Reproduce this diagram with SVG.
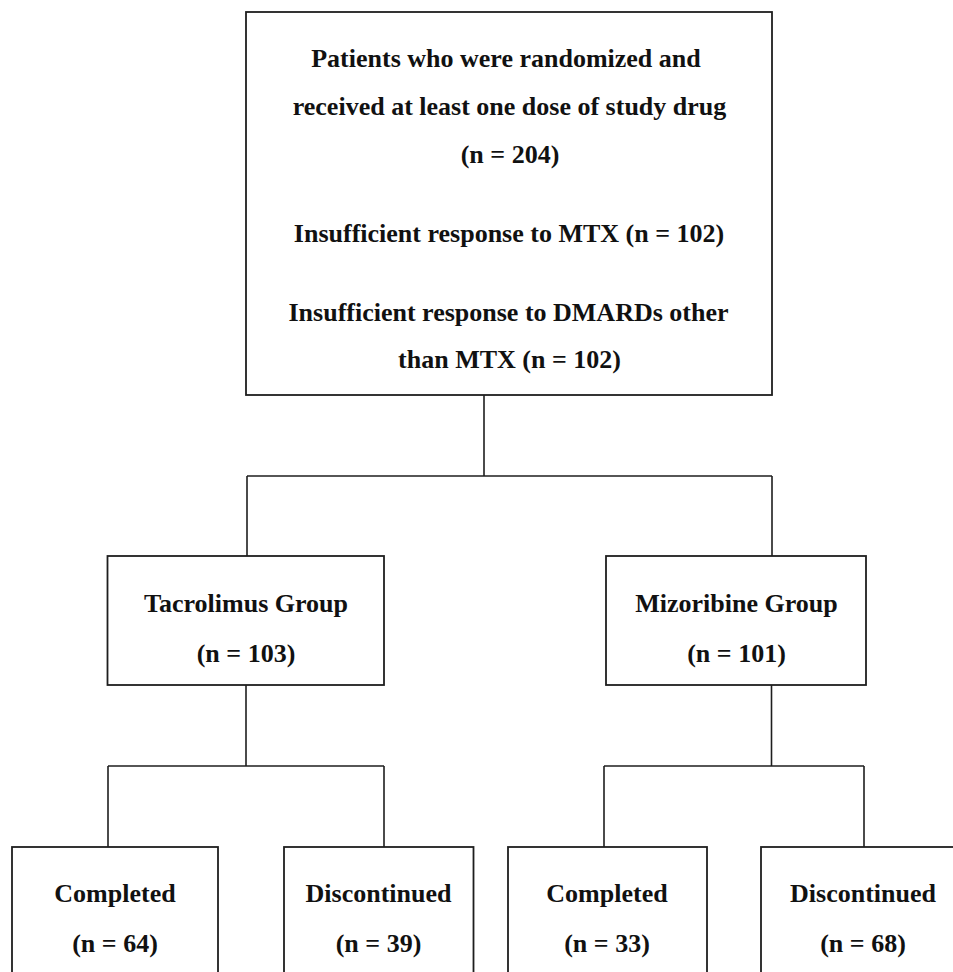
<svg xmlns="http://www.w3.org/2000/svg" width="953" height="972" viewBox="0 0 953 972">
<style>
  .box { fill: #ffffff; stroke: #1e1e1e; stroke-width: 1.8; }
  .conn { fill: none; stroke: #1e1e1e; stroke-width: 1.6; }
  text { font-family: "Liberation Serif", "Times New Roman", serif; font-weight: bold; font-size: 26px; fill: #111111; text-anchor: middle; }
</style>
<rect x="0" y="0" width="953" height="972" fill="#ffffff"/>
<g id="connectors">
  <path class="conn" d="M484,395 V476"/>
  <path class="conn" d="M247,476 H772"/>
  <path class="conn" d="M247,476 V556"/>
  <path class="conn" d="M772,476 V556"/>
  <path class="conn" d="M246,685 V766"/>
  <path class="conn" d="M108,766 H384"/>
  <path class="conn" d="M108,766 V847"/>
  <path class="conn" d="M384,766 V847"/>
  <path class="conn" d="M771.5,685 V766"/>
  <path class="conn" d="M604,766 H864"/>
  <path class="conn" d="M604,766 V847"/>
  <path class="conn" d="M864,766 V847"/>
</g>
<g id="node-top">
  <rect class="box" x="246" y="12" width="526" height="383"/>
  <text x="506" y="67">Patients who were randomized and</text>
  <text x="509.5" y="115">received at least one dose of study drug</text>
  <text x="510" y="163">(n = 204)</text>
  <text x="509" y="242">Insufficient response to MTX (n = 102)</text>
  <text x="508.5" y="321">Insufficient response to DMARDs other</text>
  <text x="509.5" y="368">than MTX (n = 102)</text>
</g>
<g id="node-tacrolimus">
  <rect class="box" x="107.5" y="556" width="276.5" height="129"/>
  <text x="246" y="612">Tacrolimus Group</text>
  <text x="246" y="662">(n = 103)</text>
</g>
<g id="node-mizoribine">
  <rect class="box" x="606" y="556" width="260" height="129"/>
  <text x="736.5" y="612">Mizoribine Group</text>
  <text x="736.5" y="662">(n = 101)</text>
</g>
<g id="node-tac-completed">
  <rect class="box" x="12" y="847" width="206" height="140"/>
  <text x="115" y="902">Completed</text>
  <text x="115" y="952">(n = 64)</text>
</g>
<g id="node-tac-discontinued">
  <rect class="box" x="284" y="847" width="189.5" height="140"/>
  <text x="378.5" y="902">Discontinued</text>
  <text x="378.5" y="952">(n = 39)</text>
</g>
<g id="node-miz-completed">
  <rect class="box" x="508" y="847" width="199" height="140"/>
  <text x="607" y="902">Completed</text>
  <text x="607" y="952">(n = 33)</text>
</g>
<g id="node-miz-discontinued">
  <rect class="box" x="761" y="847" width="205" height="140"/>
  <text x="863" y="902">Discontinued</text>
  <text x="863" y="952">(n = 68)</text>
</g>
</svg>
